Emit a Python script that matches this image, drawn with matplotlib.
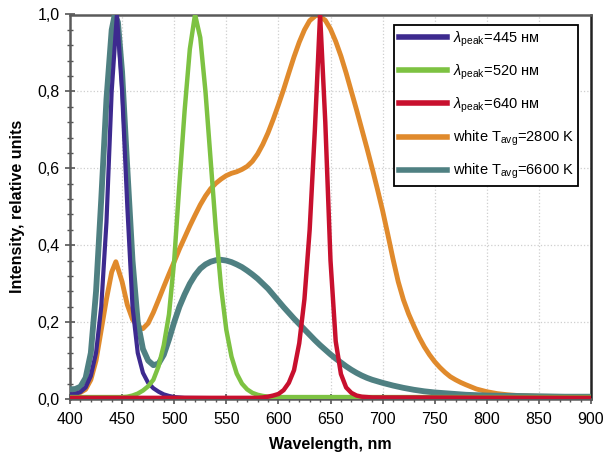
import matplotlib
matplotlib.use("Agg")
import matplotlib.pyplot as plt
from matplotlib.ticker import MultipleLocator, FuncFormatter

plt.rcParams['font.family'] = ['Liberation Sans', 'DejaVu Sans']
plt.rcParams['mathtext.fontset'] = 'custom'
plt.rcParams['mathtext.rm'] = 'Liberation Sans'
plt.rcParams['mathtext.it'] = 'Liberation Sans:italic'

# ---- data ----
wl_445 = [400, 405, 410, 415, 420, 425, 430, 435, 440, 445, 450, 455, 460, 465, 470,
          475, 480, 485, 490, 495, 500, 510, 550, 900]
int_445 = [0.012, 0.013, 0.018, 0.03, 0.06, 0.12, 0.24, 0.46, 0.8, 1.0, 0.8, 0.5, 0.24, 0.12, 0.068,
           0.042, 0.028, 0.019, 0.012, 0.008, 0.005, 0.003, 0.002, 0.002]

wl_520 = [400, 450, 455, 460, 465, 470, 475, 480, 485, 490, 495, 500, 505, 510, 515, 520,
          525, 530, 535, 540, 545, 550, 555, 560, 565, 570, 575, 580, 585, 590, 595, 600, 900]
int_520 = [0.005, 0.005, 0.006, 0.009, 0.014, 0.022, 0.033, 0.05, 0.085, 0.14, 0.22, 0.36, 0.56, 0.75, 0.91, 1.0,
           0.94, 0.8, 0.62, 0.44, 0.29, 0.18, 0.11, 0.066, 0.04, 0.025, 0.016, 0.011, 0.008, 0.006, 0.005, 0.005, 0.005]

wl_640 = [400, 580, 585, 590, 595, 600, 605, 610, 615, 620, 625, 630, 635, 640, 645, 650,
          655, 660, 665, 670, 675, 680, 690, 900]
int_640 = [0.003, 0.003, 0.004, 0.006, 0.009, 0.013, 0.023, 0.042, 0.075, 0.145, 0.26, 0.44, 0.7, 1.0, 0.72, 0.36,
           0.15, 0.065, 0.03, 0.016, 0.009, 0.006, 0.004, 0.003]

wl_2800 = [400, 405, 410, 415, 420, 425, 430, 435, 440, 444, 450, 455, 460, 465, 470, 475,
           480, 485, 490, 495, 500, 505, 510, 515, 520, 525, 530, 535, 540, 545, 550, 555,
           560, 565, 570, 575, 580, 585, 590, 595, 600, 605, 610, 615, 620, 625, 630, 637,
           645, 650, 655, 660, 665, 670, 675, 680, 685, 690, 695, 700, 705, 710, 715,
           720, 725, 730, 735, 740, 745, 750, 755, 760, 765, 770, 775, 780, 790, 800, 810,
           820, 830, 840, 850, 900]
int_2800 = [0.012, 0.013, 0.017, 0.025, 0.05, 0.1, 0.18, 0.26, 0.33, 0.357, 0.305, 0.245, 0.207, 0.188, 0.183, 0.197,
            0.225, 0.258, 0.292, 0.325, 0.357, 0.39, 0.42, 0.45, 0.478, 0.505, 0.528, 0.547, 0.561, 0.572, 0.581, 0.587,
            0.591, 0.597, 0.605, 0.618, 0.637, 0.662, 0.692, 0.727, 0.765, 0.805, 0.848, 0.89, 0.928, 0.96, 0.984, 1.0,
            0.985, 0.962, 0.93, 0.892, 0.848, 0.8, 0.752, 0.702, 0.652, 0.6, 0.546, 0.49, 0.428, 0.364, 0.305,
            0.258, 0.221, 0.19, 0.161, 0.136, 0.115, 0.097, 0.082, 0.069, 0.058, 0.05, 0.043, 0.037, 0.026, 0.019, 0.014,
            0.011, 0.009, 0.008, 0.007, 0.006]

wl_6600 = [400, 405, 410, 415, 420, 425, 430, 435, 440, 443, 446, 450, 455, 460, 465, 470,
           475, 480, 485, 490, 495, 500, 505, 510, 515, 520, 525, 530, 535, 540, 545, 550,
           555, 560, 565, 570, 575, 580, 585, 590, 595, 600, 605, 610, 615, 620, 625, 630,
           635, 640, 645, 650, 655, 660, 665, 670, 675, 680, 685, 690, 695, 700, 710, 720,
           730, 740, 750, 760, 770, 780, 790, 800, 825, 850, 875, 900]
int_6600 = [0.025, 0.026, 0.032, 0.055, 0.12, 0.28, 0.52, 0.78, 0.96, 1.0, 0.98, 0.85, 0.6, 0.36, 0.2, 0.13,
            0.1, 0.088, 0.092, 0.115, 0.155, 0.2, 0.24, 0.272, 0.3, 0.322, 0.339, 0.35, 0.357, 0.361, 0.362, 0.36,
            0.356, 0.35, 0.343, 0.334, 0.324, 0.313, 0.3, 0.287, 0.271, 0.255, 0.239, 0.224, 0.209, 0.195, 0.181, 0.167,
            0.153, 0.14, 0.128, 0.116, 0.105, 0.095, 0.085, 0.076, 0.068, 0.061, 0.055, 0.05, 0.046, 0.042, 0.035, 0.029,
            0.024, 0.02, 0.017, 0.015, 0.013, 0.011, 0.01, 0.009, 0.008, 0.007, 0.006, 0.006]

labels = [r'$\lambda_{\rm peak}$=445 нм', r'$\lambda_{\rm peak}$=520 нм', r'$\lambda_{\rm peak}$=640 нм',
          r'white T$_{\rm avg}$=2800 K', r'white T$_{\rm avg}$=6600 K']
colors = ['#3d2a8f', '#7dc242', '#c8102e', '#e08a2c', '#4f8082']

fig = plt.figure(figsize=(6.03, 4.57), dpi=100)
ax = fig.add_axes([70 / 603, 1 - 399 / 457, 521 / 603, 384.5 / 457])

h_or, = ax.plot(wl_2800, int_2800, color=colors[3], lw=3.5, zorder=2, solid_joinstyle='round')
h_te, = ax.plot(wl_6600, int_6600, color=colors[4], lw=4.2, zorder=3, solid_joinstyle='round')
h_bl, = ax.plot(wl_445, int_445, color=colors[0], lw=3.0, zorder=4, solid_joinstyle='round')
h_gr, = ax.plot(wl_520, int_520, color=colors[1], lw=3.2, zorder=5, solid_joinstyle='round')
h_rd, = ax.plot(wl_640, int_640, color=colors[2], lw=3.2, zorder=6, solid_joinstyle='round')

ax.set_xlim(400, 900)
ax.set_ylim(0, 1.0)
ax.xaxis.set_major_locator(MultipleLocator(50))
ax.xaxis.set_minor_locator(MultipleLocator(10))
ax.yaxis.set_major_locator(MultipleLocator(0.2))
ax.yaxis.set_minor_locator(MultipleLocator(0.04))
ax.yaxis.set_major_formatter(FuncFormatter(lambda v, p: f'{v:.1f}'.replace('.', ',')))
ax.tick_params(axis='both', which='major', direction='inout', length=7, width=1.2,
               color='#555555', labelsize=11.5)
ax.tick_params(axis='x', which='major', pad=6)
ax.tick_params(axis='y', which='major', pad=4)
ax.tick_params(axis='both', which='minor', direction='inout', length=4, width=1.0, color='#555555')
ax.grid(True, which='major', color='#cfcfcf', linestyle=':', linewidth=0.9)
ax.set_axisbelow(True)
for s in ['left', 'bottom', 'top']:
    ax.spines[s].set_color('#5a5a5a')
    ax.spines[s].set_linewidth(1.8)
ax.spines['right'].set_color('#222222')
ax.spines['right'].set_linewidth(1.8)

ax.set_xlabel('Wavelength, nm', fontsize=11.5, fontweight='bold', labelpad=7)
ax.set_ylabel('Intensity, relative units', fontsize=11.5, fontweight='bold', labelpad=9)

leg = ax.legend([h_bl, h_gr, h_rd, h_or, h_te], labels, loc='upper right',
                bbox_to_anchor=(578 / 603, 1 - 25 / 457), bbox_transform=fig.transFigure,
                borderaxespad=0, fancybox=False, framealpha=1, edgecolor='black',
                prop={'size': 10.5},
                handlelength=3.3, handletextpad=0.4, labelspacing=0.95,
                borderpad=0.3)
leg.get_frame().set_linewidth(1.3)
for line in leg.get_lines():
    line.set_linewidth(4)

fig.savefig('out.png', dpi=100)
